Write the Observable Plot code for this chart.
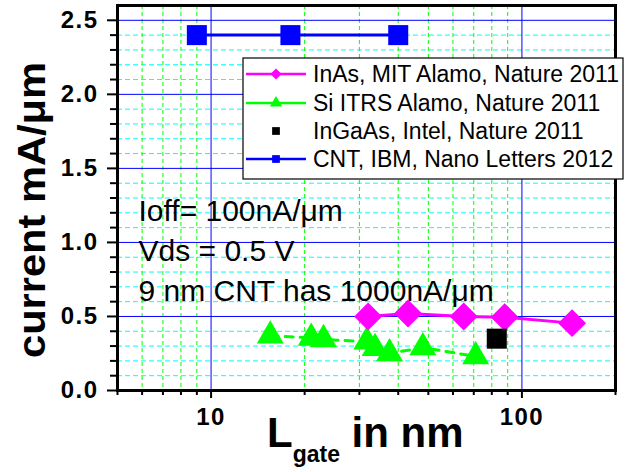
<!DOCTYPE html>
<html>
<head>
<meta charset="utf-8">
<script src="https://cdn.jsdelivr.net/npm/d3@7"></script>
<script src="https://cdn.jsdelivr.net/npm/@observablehq/plot@0.6"></script>
<style>
  html, body { margin: 0; padding: 0; background: #fff; }
  #chart svg g[aria-label*="tick label"],
  #chart svg g[aria-label*="tick label"] text { font-weight: bold; letter-spacing: 1.5px; }
</style>
</head>
<body>
<div id="chart"></div>
<script>
// ---- data ----
const inasX = [32, 43, 65, 88, 145];
const inasY = [0.50, 0.52, 0.50, 0.495, 0.455];
const siX = [15.5, 21, 23, 31.7, 33.7, 37.5, 48, 71];
const siY = [0.37, 0.355, 0.345, 0.33, 0.285, 0.25, 0.29, 0.23];
const ingaasX = [83];
const ingaasY = [0.35];
const cntX = [9, 18, 40];
const cntY = [2.4, 2.4, 2.4];

const seriesNames = [
  "InAs, MIT Alamo, Nature 2011",
  "Si ITRS Alamo, Nature 2011",
  "InGaAs, Intel, Nature 2011",
  "CNT, IBM, Nano Letters 2012"
];
const annotationLines = ["Ioff= 100nA/\u03BCm", "Vds = 0.5 V", "9 nm CNT has 1000nA/\u03BCm"];

const xMajorTicks = [10, 100];
const xMinorTicks = [5, 6, 7, 8, 9, 20, 30, 40, 50, 60, 70, 80, 90, 200];
const yMajorTicks = [0, 0.5, 1.0, 1.5, 2.0, 2.5];
const yMinorTicks = [0.1,0.2,0.3,0.4,0.6,0.7,0.8,0.9,1.1,1.2,1.3,1.4,1.6,1.7,1.8,1.9,2.1,2.2,2.3,2.4];
const xGridMinor = [6, 7, 8, 9, 20, 30, 40, 50, 60, 70, 80, 90];

const toRows = (xs, ys) => xs.map((x, i) => ({x, y: ys[i]}));
const inas = toRows(inasX, inasY);
const si = toRows(siX, siY);
const ingaas = toRows(ingaasX, ingaasY);
const cnt = toRows(cntX, cntY);

const FONT = "'Liberation Sans', Arial, sans-serif";
const MAGENTA = "#FF00FF", GREEN = "#00FF00", BLUE = "#0000FF", CYAN = "#00FFFF";

const svg = Plot.plot({
  width: 639,
  height: 472,
  marginLeft: 117,
  marginRight: 24,
  marginTop: 5,
  marginBottom: 82,
  style: {fontFamily: FONT, background: "#fff", color: "#000"},
  x: {type: "log", domain: [5, 200]},
  y: {domain: [0, 2.6]},
  marks: [
    Plot.gridY(yMinorTicks, {stroke: CYAN, strokeOpacity: 1, strokeDasharray: "5,3", strokeWidth: 1}),
    Plot.gridX(xGridMinor, {stroke: GREEN, strokeOpacity: 1, strokeDasharray: "4,3", strokeWidth: 1}),
    Plot.gridY(yMajorTicks.slice(1), {stroke: BLUE, strokeOpacity: 1, strokeWidth: 1}),
    Plot.gridX(xMajorTicks, {stroke: BLUE, strokeOpacity: 1, strokeWidth: 1}),
    Plot.text([annotationLines.join("\n")], {
      frameAnchor: "top-left", textAnchor: "start", lineAnchor: "top",
      dx: 21, dy: 187, fontSize: 30, lineHeight: 1.34, fill: "#000"
    }),
    Plot.line(inas, {x: "x", y: "y", stroke: MAGENTA, strokeWidth: 3}),
    Plot.line(si, {x: "x", y: "y", stroke: GREEN, strokeWidth: 3, strokeDasharray: "8,7"}),
    Plot.line(cnt, {x: "x", y: "y", stroke: BLUE, strokeWidth: 3}),
    Plot.dot(si, {x: "x", y: "y", symbol: "triangle", r: 10, fill: GREEN}),
    Plot.dot(inas, {x: "x", y: "y", symbol: "diamond2", r: 12.6, fill: MAGENTA}),
    Plot.dot(ingaas, {x: "x", y: "y", symbol: "square", r: 11.3, fill: "#000"}),
    Plot.dot(cnt, {x: "x", y: "y", symbol: "square", r: 11.3, fill: BLUE}),
    Plot.axisY(yMajorTicks, {
      tickSize: 10, tickPadding: 9, tickFormat: d3.format(".1f"),
      fontSize: 24, fontWeight: "bold", strokeWidth: 2, label: null
    }),
    Plot.axisY(yMinorTicks, {tickSize: 7, strokeWidth: 2, tickFormat: () => "", label: null}),
    Plot.axisX(xMajorTicks, {
      tickSize: 8, tickPadding: 9, tickFormat: d => String(d),
      fontSize: 24, fontWeight: "bold", strokeWidth: 2, label: null
    }),
    Plot.axisX(xMinorTicks, {tickSize: 5, strokeWidth: 2, tickFormat: () => "", label: null}),
    Plot.frame({stroke: "#000", strokeWidth: 3})
  ]
});

document.getElementById("chart").appendChild(svg);

const s = d3.select(svg);

// Axis titles
const xt = s.append("text")
  .attr("x", 267).attr("y", 447).attr("text-anchor", "start")
  .attr("font-family", FONT).attr("font-weight", "bold").attr("font-size", 42)
  .attr("fill", "#000");
xt.append("tspan").text("L");
xt.append("tspan").attr("dy", 15).attr("font-size", 23).text("gate");
xt.append("tspan").attr("dy", -15).attr("font-size", 42).text("\u00A0in nm");

s.append("text")
  .attr("transform", "translate(45,210) rotate(-90)")
  .attr("text-anchor", "middle")
  .attr("font-family", FONT).attr("font-weight", "bold").attr("font-size", 38)
  .attr("textLength", 296).attr("lengthAdjust", "spacingAndGlyphs")
  .attr("fill", "#000")
  .text("current mA/\u03BCm");

// Legend
const lg = s.append("g").attr("text-anchor", "start");
lg.append("rect").attr("x", 243).attr("y", 58).attr("width", 380).attr("height", 121)
  .attr("fill", "#fff").attr("stroke", "#000").attr("stroke-width", 1.2);
const rowsY = [74, 103, 131, 159];
const legendStyle = [
  {color: MAGENTA, symbol: d3.symbolDiamond2, size: 80, line: true},
  {color: GREEN, symbol: d3.symbolTriangle, size: 65, line: true},
  {color: "#000", symbol: d3.symbolSquare, size: 60, line: false},
  {color: BLUE, symbol: d3.symbolSquare, size: 60, line: true}
];
seriesNames.forEach((name, i) => {
  const st = legendStyle[i];
  const y = rowsY[i];
  if (st.line) {
    lg.append("line").attr("x1", 246).attr("x2", 306).attr("y1", y).attr("y2", y)
      .attr("stroke", st.color).attr("stroke-width", 2.5);
  }
  lg.append("path").attr("d", d3.symbol(st.symbol, st.size)())
    .attr("transform", `translate(276,${y})`).attr("fill", st.color);
  lg.append("text").attr("x", 313).attr("y", y + 8).attr("text-anchor", "start")
    .attr("font-family", FONT).attr("font-size", 23).attr("fill", "#000")
    .text(name);
});
</script>
</body>
</html>
